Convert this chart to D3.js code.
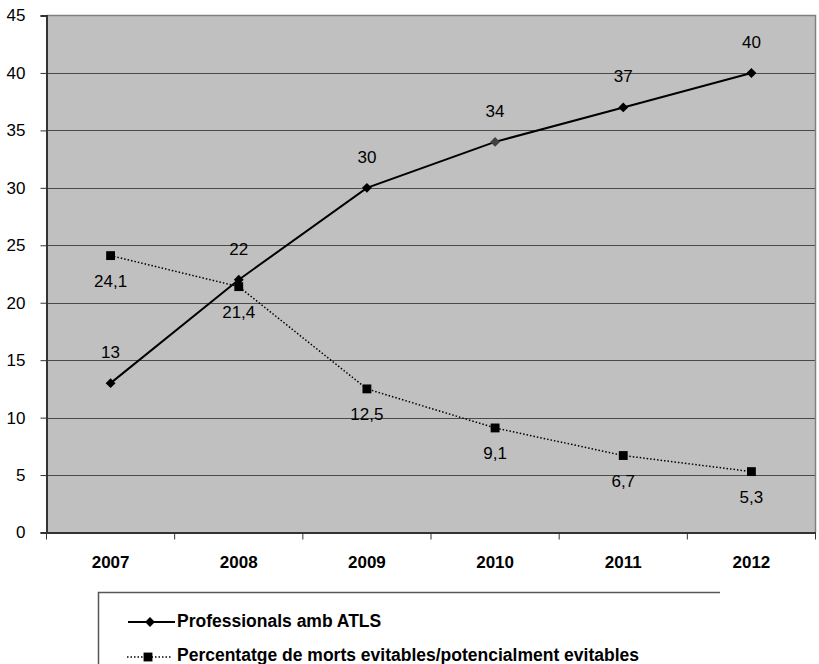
<!DOCTYPE html>
<html><head><meta charset="utf-8">
<script src="https://cdn.jsdelivr.net/npm/d3@7"></script>
<style>body{margin:0;background:#fff}svg{display:block;font-family:"Liberation Sans",Arial,sans-serif}</style>
</head><body><svg id="c" width="819" height="664"></svg>
<script>
const years = ["2007","2008","2009","2010","2011","2012"];
const professionals = [13,22,30,34,37,40];
const percentatge = [24.1,21.4,12.5,9.1,6.7,5.3];
const percentLabels = ["24,1","21,4","12,5","9,1","6,7","5,3"];
const yTicks = [0,5,10,15,20,25,30,35,40,45];
const seriesNames = ["Professionals amb ATLS","Percentatge de morts evitables/potencialment evitables"];

const svg = d3.select("#c");
const L=46.5, R=815.5, T=15.5, B=532.5;
const x = d3.scaleBand().domain(years).range([L,R]);
const y = d3.scaleLinear().domain([0,45]).range([B,T]);

svg.append("rect").attr("x",L).attr("y",T).attr("width",R-L).attr("height",B-T).attr("fill","#c0c0c0");
svg.append("g").selectAll("line").data(yTicks.filter(d=>d>0&&d<45)).join("line")
  .attr("x1",L).attr("x2",R).attr("y1",d=>Math.round(y(d))+0.5).attr("y2",d=>Math.round(y(d))+0.5)
  .attr("stroke","#4a4a4a").attr("stroke-width",1);
svg.append("path").attr("d",`M${L},${T}H${R}V${B}`).attr("fill","none").attr("stroke","#808080").attr("stroke-width",1.5);

const ya = svg.append("g").attr("transform",`translate(${L},0)`)
  .call(d3.axisLeft(y).tickValues(yTicks).tickSize(6).tickPadding(15).tickFormat(d3.format("d")));
ya.select(".domain").attr("stroke","#333").attr("stroke-width",2);
ya.selectAll(".tick line").attr("stroke","#333");
ya.selectAll("text").attr("font-size",17).attr("fill","#000").attr("font-family","Liberation Sans, Arial");

const xa = svg.append("g").attr("transform",`translate(0,${B})`)
  .call(d3.axisBottom(x).tickSize(0).tickPadding(23));
xa.select(".domain").attr("stroke","#333").attr("stroke-width",2);
xa.selectAll("text").attr("font-size",17).attr("font-weight","bold").attr("fill","#000").attr("font-family","Liberation Sans, Arial");
svg.append("g").selectAll("line").data(d3.range(years.length+1)).join("line")
  .attr("x1",i=>L+i*x.step()).attr("x2",i=>L+i*x.step()).attr("y1",B).attr("y2",B+7)
  .attr("stroke","#333").attr("stroke-width",1);

const cx = d=>x(d)+x.bandwidth()/2;
const diamond = d3.symbol().type(d3.symbolDiamond2).size(62);
const square = d3.symbol().type(d3.symbolSquare2).size(100);

const pts2 = years.map((yr,i)=>[cx(yr),y(percentatge[i])]);
svg.append("path").attr("d",d3.line()(pts2)).attr("fill","none")
  .attr("stroke","#000").attr("stroke-width",1.5).attr("stroke-dasharray","1.5,2");
const pts1 = years.map((yr,i)=>[cx(yr),y(professionals[i])]);
svg.append("path").attr("d",d3.line()(pts1)).attr("fill","none")
  .attr("stroke","#000").attr("stroke-width",2);

svg.append("g").selectAll("path").data(pts2).join("path").attr("d",square)
  .attr("transform",d=>`translate(${d[0]},${d[1]})`).attr("fill","#000");
svg.append("g").selectAll("path").data(pts1).join("path").attr("d",diamond)
  .attr("transform",d=>`translate(${d[0]},${d[1]})`).attr("fill",(d,i)=>i===3?"#404040":"#000");

svg.append("g").selectAll("text").data(professionals).join("text")
  .attr("x",(d,i)=>cx(years[i])).attr("y",d=>y(d)-25).attr("text-anchor","middle")
  .attr("font-size",17).text(d=>d);
svg.append("g").selectAll("text").data(percentatge).join("text")
  .attr("x",(d,i)=>cx(years[i])).attr("y",d=>y(d)+31).attr("text-anchor","middle")
  .attr("font-size",17).text((d,i)=>percentLabels[i]);

const lg = svg.append("g");
lg.append("path").attr("d","M98.5,670V592.5H720").attr("fill","none").attr("stroke","#555").attr("stroke-width",1.5);
lg.append("line").attr("x1",128).attr("x2",175).attr("y1",622).attr("y2",622).attr("stroke","#000").attr("stroke-width",2);
lg.append("path").attr("d",diamond).attr("transform","translate(150,622)").attr("fill","#000");
lg.append("line").attr("x1",127).attr("x2",171).attr("y1",657).attr("y2",657).attr("stroke","#000").attr("stroke-width",1.5).attr("stroke-dasharray","1.5,2");
lg.append("path").attr("d",square).attr("transform","translate(148,657)").attr("fill","#000");
lg.selectAll("text.l").data(seriesNames).join("text").attr("class","l")
  .attr("x",177).attr("y",(d,i)=>627+i*34).attr("font-size",17.5).attr("font-weight","bold").text(d=>d);
</script></body></html>
